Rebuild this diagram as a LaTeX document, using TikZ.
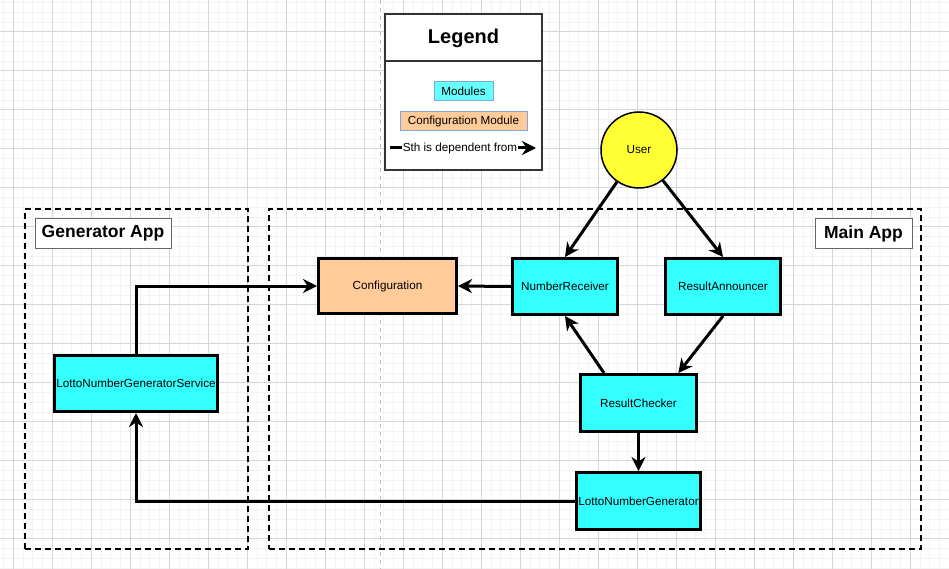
\documentclass[tikz,border=0pt]{standalone}
\usepackage{fontspec}
\setmainfont{Liberation Sans}
\usetikzlibrary{arrows.meta,calc}

\definecolor{modcyan}{HTML}{33FFFF}
\definecolor{legcyan}{HTML}{66FFFF}
\definecolor{cfgorange}{HTML}{FFCC99}
\definecolor{useryellow}{HTML}{FFFF33}
\definecolor{legborder}{HTML}{7EA6E0}
\definecolor{gridminor}{HTML}{F3F3F3}
\definecolor{gridmajor}{HTML}{D6D6D6}
\definecolor{pageline}{HTML}{C4C4C4}

\begin{document}
\begin{tikzpicture}[
x=1pt, y=-1pt,
font=\fontsize{11.7}{14}\selectfont,
module/.style={draw=black, line width=3pt, fill=modcyan, inner sep=0pt},
cfgmodule/.style={module, fill=cfgorange},
appbox/.style={draw=black, line width=2pt, dash pattern=on 6pt off 4pt, inner sep=0pt},
applabel/.style={draw=black!60, line width=1pt, fill=white, inner sep=0pt,
  font=\fontsize{17.5}{20}\selectfont\bfseries},
legitem/.style={draw=legborder, line width=1pt, inner sep=0pt},
dep/.style={-{Stealth[length=14pt,width=14pt,inset=4.5pt]}, draw=black, line width=3pt},
]
\useasboundingbox (0,0) rectangle (949,569);
\fill[white] (0,0) rectangle (949,569);

% grid
\foreach \i in {0,...,97} {
  \draw[gridminor, line width=0.7pt] ({3.55+9.75*\i},0) -- ({3.55+9.75*\i},569);
}
\foreach \i in {0,...,58} {
  \draw[gridminor, line width=0.7pt] (0,{2.45+9.75*\i}) -- (949,{2.45+9.75*\i});
}
\foreach \i in {0,...,24} {
  \draw[gridmajor, line width=1pt] ({13.3+39*\i},0) -- ({13.3+39*\i},569);
}
\foreach \i in {0,...,14} {
  \draw[gridmajor, line width=1pt] (0,{31.7+39*\i}) -- (949,{31.7+39*\i});
}
\draw[pageline, line width=1pt, dash pattern=on 4pt off 4pt] (380,0) -- (380,569);

% containers
\node[appbox, minimum width=223, minimum height=340] (genapp) at (136.5,379) {};
\node[appbox, minimum width=652, minimum height=340] (mainapp) at (595,379) {};
\node[applabel, minimum width=136, minimum height=29] (genlbl) at (103,233.5) {Generator App};
\node[applabel, minimum width=97, minimum height=29] (mainlbl) at (863.5,233.5) {Main App};

% legend
\node[draw=black!80, line width=1.5pt, fill=white, minimum width=157, minimum height=156] (legend) at (463.5,92) {};
\draw[black!80, line width=1.5pt] ($(legend.north west)+(0,48)$) -- ($(legend.north east)+(0,48)$);
\node[font=\fontsize{20}{24}\selectfont\bfseries] (legtitle) at (463.5,38) {Legend};
\node[legitem, fill=legcyan, minimum width=59, minimum height=19] (legmod) at (463.5,91.5) {Modules};
\node[legitem, fill=cfgorange, minimum width=127, minimum height=19] (legcfg) at (463.5,121.5) {Configuration Module};
\coordinate (legfrom) at (390,148);
\coordinate (legto) at (536,148);
\path[dep] (legfrom) -- (legto);
\node[fill=white, inner sep=1pt] (legtxt) at (460,148) {Sth is dependent from};

% modules
\node[cfgmodule, minimum width=138, minimum height=55] (cfg) at (387.5,286) {Configuration};
\node[module, minimum width=105, minimum height=56] (recv) at (565,286.5) {NumberReceiver};
\node[module, minimum width=115, minimum height=56] (annc) at (723,286.5) {ResultAnnouncer};
\node[module, minimum width=116, minimum height=57] (chk) at (638.5,403) {ResultChecker};
\node[module, minimum width=124, minimum height=57] (lng) at (638.5,501) {LottoNumberGenerator};
\node[module, minimum width=163, minimum height=56] (lngs) at (136,383.5) {LottoNumberGeneratorService};
\node[circle, draw=black, line width=1.5pt, fill=useryellow, minimum size=76, inner sep=0pt] (user) at (639,150) {User};

\path[dep] (user) -- (recv.north);
\path[dep] (user) -- (annc.north);
\path[dep] (recv.west) -- (cfg.east);
\path[dep] (lngs.north) |- (cfg.west);
\path[dep] (chk.139) -- (recv.south);
\path[dep] (annc.south) -- (chk.37);
\path[dep] (chk.south) -- (lng.north);
\path[dep] (lng.west) -| (lngs.south);

\end{tikzpicture}
\end{document}
